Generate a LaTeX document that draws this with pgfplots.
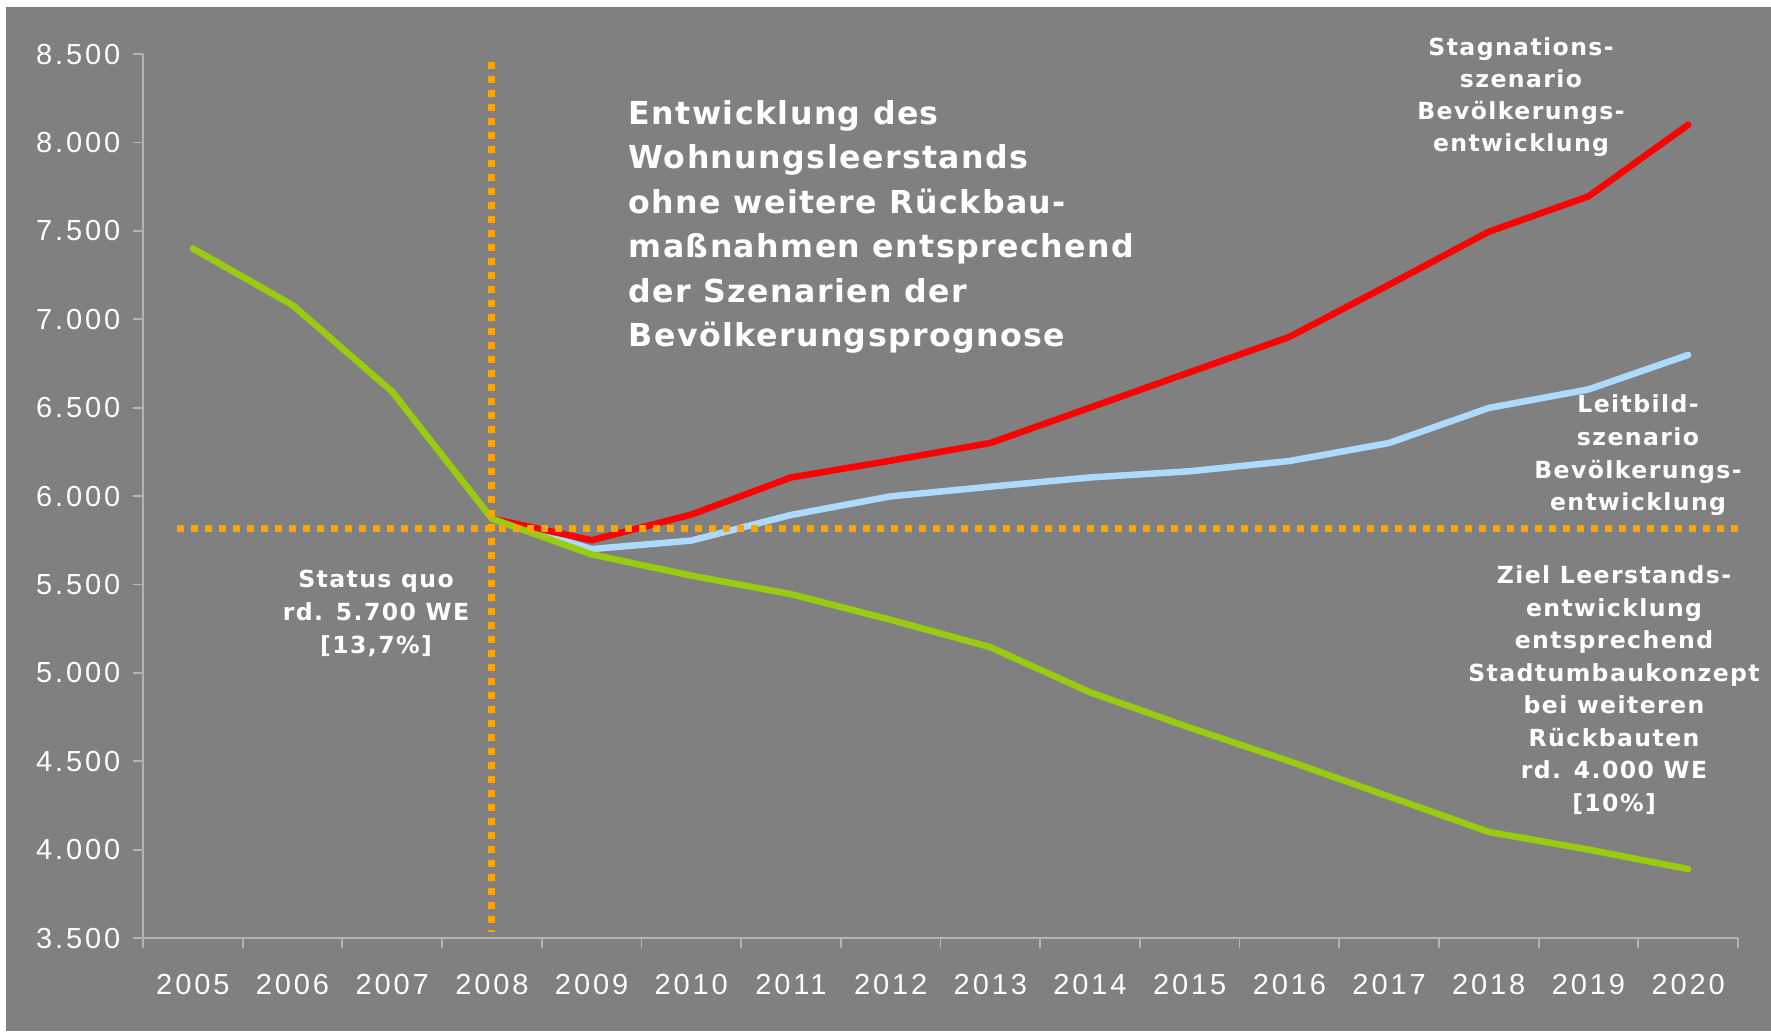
\documentclass[border=0pt]{standalone}
\usepackage{fontspec}
\setmainfont{Liberation Sans}
\newfontfamily\tickfont[LetterSpace=10]{Liberation Sans}
\newfontfamily\annotfont[LetterSpace=6]{DejaVu Sans}
\newfontfamily\titlefont[LetterSpace=4.5]{DejaVu Sans}
\usepackage{pgfplots}
\pgfplotsset{compat=1.18}
\definecolor{bg}{HTML}{808080}
\definecolor{lgreen}{HTML}{99CC11}
\definecolor{lblue}{HTML}{ADDBFF}
\definecolor{orng}{HTML}{FFA500}
\definecolor{axgray}{HTML}{B4B4B4}
\newcommand{\ann}[3]{\node[anchor=base,inner sep=0pt,text=white,font=\annotfont\bfseries\fontsize{6.7}{8}\selectfont] at (#1,#2) {#3};}
\newcommand{\ttl}[2]{\node[anchor=base west,inner sep=0pt,text=white,font=\titlefont\bfseries\fontsize{9}{10}\selectfont] at (628,#1) {#2};}
\begin{document}
\begin{tikzpicture}[x=0.1mm,y=0.1mm]
\fill[white] (0,0) rectangle (1771,1031);
\fill[bg] (6,0) rectangle (1771,1024);
\begin{axis}[
  at={(14.3mm,9.3mm)}, anchor=south west, scale only axis,
  width=159.5mm, height=88.4mm,
  xmin=-0.5, xmax=15.5, ymin=3500, ymax=8500,
  clip=false,
  axis x line*=bottom, axis y line*=left,
  axis line style={axgray, line width=0.5pt, -},
  xtick={0,1,...,15},
  xticklabels={2005,2006,2007,2008,2009,2010,2011,2012,2013,2014,2015,2016,2017,2018,2019,2020},
  minor xtick={-0.5,0.5,...,15.5},
  ytick={3500,4000,...,8500},
  scaled y ticks=false,
  tick align=outside,
  major tick length=1mm, minor tick length=1mm,
  tick style={axgray, line width=0.5pt},
  major x tick style={draw=none},
  ticklabel style={font=\tickfont\fontsize{8.25}{10}\selectfont, text=white},
  xticklabel style={inner sep=0pt, anchor=north, yshift=-2.6mm},
  yticklabel style={inner sep=0pt, anchor=east, xshift=-1.2mm},
  /pgf/number format/1000 sep={.},
  /pgf/number format/assume math mode=true,
]
\addplot[lblue, line width=0.65mm, line join=round, line cap=round] coordinates {
 (3,5872) (4,5700) (5,5748) (6,5893) (7,5998) (8,6053) (9,6105) (10,6140) (11,6198) (12,6300) (13,6498) (14,6603) (15,6798)};
\addplot[red, line width=0.65mm, line join=round, line cap=round] coordinates {
 (3,5872) (4,5750) (5,5895) (6,6105) (7,6200) (8,6300) (9,6500) (10,6700) (11,6900) (12,7195) (13,7495) (14,7695) (15,8100)};
\addplot[lgreen, line width=0.65mm, line join=round, line cap=round] coordinates {
 (0,7400) (1,7080) (2,6590) (3,5872) (4,5670) (5,5550) (6,5445) (7,5300) (8,5145) (9,4890) (10,4690) (11,4500) (12,4300) (13,4100) (14,4000) (15,3890)};
\addplot[orng, line width=0.7mm, dash pattern=on 0.7mm off 0.7mm] coordinates {(3,8457) (3,3533)};
\addplot[orng, line width=0.7mm, dash pattern=on 0.7mm off 0.7mm] coordinates {(-0.16,5817) (15.5,5817)};
\end{axis}
\ttl{907}{Entwicklung des}
\ttl{862.5}{Wohnungsleerstands}
\ttl{818}{ohne weitere Rückbau-}
\ttl{773.5}{maßnahmen entsprechend}
\ttl{729}{der Szenarien der}
\ttl{684.5}{Bevölkerungsprognose}
\ann{1521}{976}{Stagnations-}
\ann{1521}{944}{szenario}
\ann{1521}{912}{Bevölkerungs-}
\ann{1521}{880}{entwicklung}
\ann{1638}{619}{Leitbild-}
\ann{1638}{586}{szenario}
\ann{1638}{553}{Bevölkerungs-}
\ann{1638}{521}{entwicklung}
\ann{1614}{448}{Ziel Leerstands-}
\ann{1614}{415}{entwicklung}
\ann{1614}{383}{entsprechend}
\ann{1614}{350}{Stadtumbaukonzept}
\ann{1614}{318}{bei weiteren}
\ann{1614}{285}{Rückbauten}
\ann{1614}{253}{rd. 4.000 WE}
\ann{1614}{220}{[10\%]}
\ann{376}{444}{Status quo}
\ann{376}{411}{rd. 5.700 WE}
\ann{376}{378}{[13,7\%]}
\pgfresetboundingbox
\useasboundingbox (0,0) rectangle (1771,1031);
\end{tikzpicture}
\end{document}
